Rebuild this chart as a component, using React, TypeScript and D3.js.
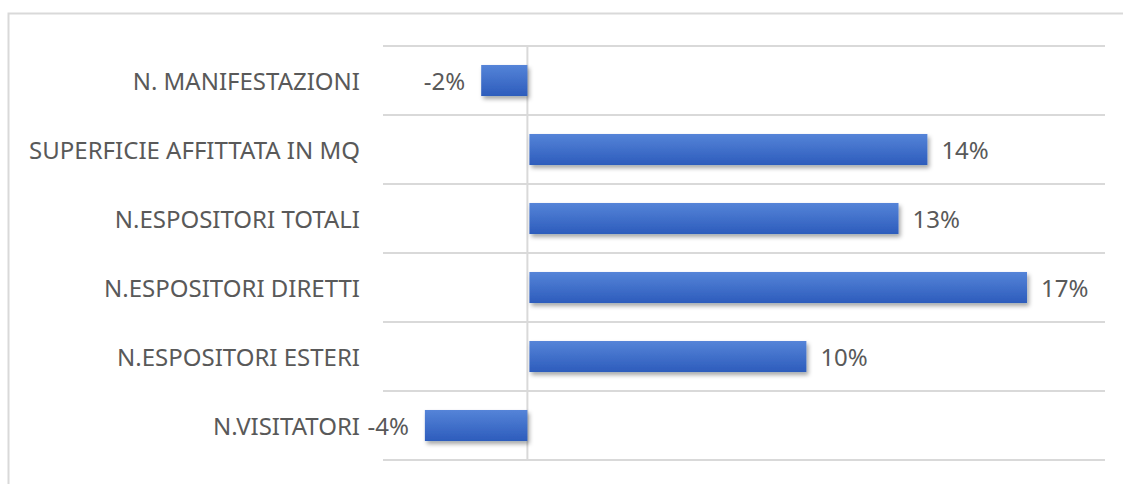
import * as d3 from "d3";

const categories = [
  "N. MANIFESTAZIONI",
  "SUPERFICIE AFFITTATA IN MQ",
  "N.ESPOSITORI TOTALI ",
  "N.ESPOSITORI DIRETTI",
  "N.ESPOSITORI ESTERI",
  "N.VISITATORI",
];
const values = [-1.6, 13.85, 12.85, 17.3, 9.66, -3.55];

const width = 1123;
const height = 484;
const plot = { left: 383, right: 1105, top: 46, bottom: 460 };
const font = "'Noto Sans', 'Open Sans', sans-serif";
const textColor = "#595959";

export default function App() {
  const x = d3.scaleLinear().domain([-5, 20]).range([plot.left, plot.right]);
  const y = d3
    .scaleBand<string>()
    .domain(categories)
    .range([plot.top, plot.bottom])
    .paddingInner(0.55)
    .paddingOuter(0.275);
  const bounds = d3.range(categories.length + 1).map((i) => plot.top + i * y.step());

  return (
    <svg
      width={width}
      height={height}
      style={{ position: "absolute", left: 0, top: 0, background: "#fff" }}
    >
      <defs>
        <linearGradient id="barFill" x1="0" y1="0" x2="0" y2="1">
          <stop offset="0%" stopColor="#5584d8" />
          <stop offset="100%" stopColor="#2d5cbc" />
        </linearGradient>
        <filter id="shadow" x="-10%" y="-30%" width="130%" height="180%">
          <feDropShadow dx="2" dy="3" stdDeviation="2.2" floodColor="#000" floodOpacity="0.35" />
        </filter>
      </defs>
      <rect x={8.5} y={13.5} width={1130} height={490} fill="none" stroke="#d9d9d9" strokeWidth={2} />
      {bounds.map((b, i) => (
        <line key={i} x1={plot.left} x2={plot.right} y1={b} y2={b} stroke="#d9d9d9" strokeWidth={2} />
      ))}
      <line x1={x(0)} x2={x(0)} y1={plot.top} y2={plot.bottom} stroke="#d9d9d9" strokeWidth={2} />
      {categories.map((c, i) => {
        const v = values[i];
        const x0 = x(Math.min(0, v)) + (v > 0 ? 2 : 0);
        const x1 = x(Math.max(0, v));
        const yc = (y(c) ?? 0) + y.bandwidth() / 2 + 1;
        const label = `${Math.round(v)}%`;
        return (
          <g key={c}>
            <rect
              x={x0}
              y={y(c)}
              width={x1 - x0}
              height={y.bandwidth()}
              fill="url(#barFill)"
              filter="url(#shadow)"
            />
            <text
              x={360}
              y={yc}
              dy="0.35em"
              textAnchor="end"
              fontFamily={font}
              fontSize={24}
              fill={textColor}
            >
              {c}
            </text>
            <text
              x={v < 0 ? x0 - 16 : x1 + 14}
              y={yc}
              dy="0.35em"
              textAnchor={v < 0 ? "end" : "start"}
              fontFamily={font}
              fontSize={24}
              fill={textColor}
            >
              {label}
            </text>
          </g>
        );
      })}
    </svg>
  );
}
